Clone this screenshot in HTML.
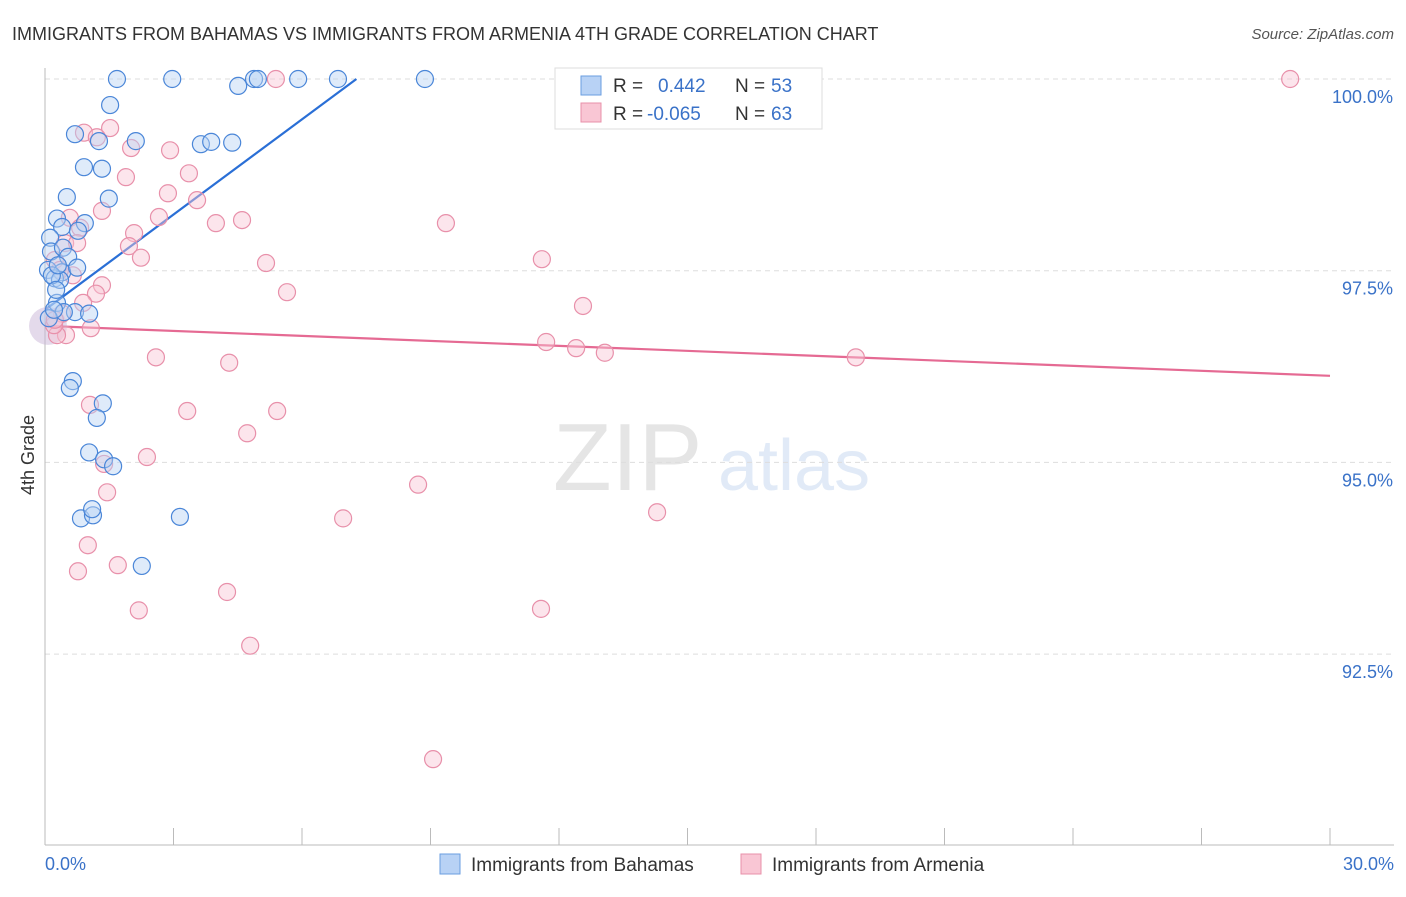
<!DOCTYPE html>
<html><head><meta charset="utf-8"><style>
body{margin:0;background:#fff;font-family:"Liberation Sans",sans-serif}
svg text{font-family:"Liberation Sans",sans-serif}
</style></head><body>
<svg id="chart" width="1406" height="892" viewBox="0 0 1406 892" xmlns="http://www.w3.org/2000/svg">
<text x="12" y="40" font-size="18" fill="#333">IMMIGRANTS FROM BAHAMAS VS IMMIGRANTS FROM ARMENIA 4TH GRADE CORRELATION CHART</text>
<text x="1394" y="39" font-size="15" fill="#555" text-anchor="end" font-style="italic">Source: ZipAtlas.com</text>
<g opacity="0.25">
<text x="553" y="490" font-size="96" fill="#999" font-family="Liberation Serif,serif">ZIP</text>
<text x="718" y="490" font-size="72" fill="#8ab0e0">atlas</text>
</g>
<g id="grid"></g>
<g id="axes"></g>
<g id="trend"></g>
<g id="pts"></g>
<text transform="translate(34,455) rotate(-90)" font-size="18" fill="#333" text-anchor="middle">4th Grade</text>
<g>
<rect x="555" y="68" width="267" height="61" fill="#fff" stroke="#ddd"/>
<rect x="581" y="76" width="20" height="19" fill="#b8d2f5" stroke="#6a9ee0"/>
<rect x="581" y="103" width="20" height="19" fill="#f9c6d4" stroke="#e890aa"/>
<text x="613" y="92" font-size="19" fill="#333">R = </text><text x="658" y="92" font-size="19" fill="#3a72c8">0.442</text>
<text x="735" y="92" font-size="19" fill="#333">N = </text><text x="771" y="92" font-size="19" fill="#3a72c8">53</text>
<text x="613" y="120" font-size="19" fill="#333">R = </text><text x="647" y="120" font-size="19" fill="#3a72c8">-0.065</text>
<text x="735" y="120" font-size="19" fill="#333">N = </text><text x="771" y="120" font-size="19" fill="#3a72c8">63</text>
</g>
<g>
<rect x="440" y="854" width="20" height="20" fill="#b8d2f5" stroke="#6a9ee0"/>
<text x="471" y="871" font-size="19" fill="#333">Immigrants from Bahamas</text>
<rect x="741" y="854" width="20" height="20" fill="#f9c6d4" stroke="#e890aa"/>
<text x="772" y="871" font-size="19" fill="#333">Immigrants from Armenia</text>
</g>
</svg>
<script>
const blueX=[1.68,2.97,4.51,4.88,4.97,5.91,6.84,8.87,1.52,0.70,1.26,2.12,3.64,3.88,4.37,0.91,1.33,0.51,1.49,0.28,0.40,0.93,0.77,0.12,0.14,0.42,0.54,0.07,0.40,0.75,0.23,0.35,0.28,0.70,0.44,1.03,0.09,0.65,0.58,1.35,1.21,1.03,1.38,1.59,0.84,1.12,1.10,3.15,2.26,0.21,0.16,0.30,0.26];
const blueY=[100,100,99.91,100,100,100,100,100,99.66,99.28,99.19,99.19,99.15,99.18,99.17,98.85,98.83,98.46,98.44,98.18,98.07,98.12,98.02,97.93,97.75,97.80,97.68,97.51,97.48,97.54,97.40,97.38,97.08,96.96,96.96,96.94,96.88,96.06,95.97,95.77,95.58,95.13,95.04,94.95,94.27,94.31,94.39,94.29,93.65,96.99,97.44,97.57,97.25];
const pinkX=[5.39,29.07,1.52,0.91,1.21,2.01,2.92,3.36,1.89,2.87,3.55,1.33,2.66,3.99,4.60,9.36,0.58,0.82,2.08,1.96,0.47,2.24,5.16,11.60,0.23,0.65,1.33,5.65,1.19,0.89,12.56,0.40,1.07,0.49,0.28,0.21,11.70,12.40,13.07,18.93,2.59,4.30,1.05,3.32,5.42,4.72,2.38,1.38,8.71,1.45,14.29,6.96,1.00,1.70,0.77,4.25,2.19,11.58,4.79,9.06,0.23,0.35,0.75];
const pinkY=[100,100,99.36,99.30,99.24,99.10,99.07,98.77,98.72,98.51,98.42,98.28,98.20,98.12,98.16,98.12,98.19,98.06,97.99,97.82,97.86,97.67,97.60,97.65,97.64,97.44,97.31,97.22,97.20,97.08,97.04,96.94,96.75,96.66,96.66,96.79,96.57,96.49,96.43,96.37,96.37,96.30,95.75,95.67,95.67,95.38,95.07,94.98,94.71,94.61,94.35,94.27,93.92,93.66,93.58,93.31,93.07,93.09,92.61,91.13,96.86,97.51,97.86];
const blueTrend=[96.99,0.414];   // intercept, slope per %
const pinkTrend=[96.78,-0.0217];
const yTicks=[100,97.5,95,92.5];
const yTickLabels=["100.0%","97.5%","95.0%","92.5%"];
const xTicks=[0,3,6,9,12,15,18,21,24,27,30];

const NS="http://www.w3.org/2000/svg";
const X0=45,X1=1330,YTOP=79;
const sx=v=>X0+(v/30)*(X1-X0);
const sy=v=>YTOP+(100-v)*76.68;
function mk(tag,attrs,parent){const e=document.createElementNS(NS,tag);for(const k in attrs)e.setAttribute(k,attrs[k]);parent.appendChild(e);return e;}
const grid=document.getElementById('grid'),axes=document.getElementById('axes'),trend=document.getElementById('trend'),pts=document.getElementById('pts');
yTicks.forEach((t,i)=>{
  const l=mk('line',{x1:X0,x2:1394,y1:sy(t),y2:sy(t),stroke:'#ddd','stroke-dasharray':'5,4'},grid);
  
  
  const tx=mk('text',{x:1393,y:sy(t)+24,'font-size':18,fill:'#3a72c8','text-anchor':'end'},axes);
  tx.textContent=yTickLabels[i];
  
  
});
const ya=mk('line',{x1:X0,x2:X0,y1:68,y2:845,stroke:'#bbb'},axes);


const xa=mk('line',{x1:X0,x2:1394,y1:845,y2:845,stroke:'#bbb'},axes);


xTicks.forEach(t=>{
  const l=mk('line',{x1:sx(t),x2:sx(t),y1:828,y2:845,stroke:'#bbb'},axes);
  
  
});
const xl0=mk('text',{x:45,y:870,'font-size':18,fill:'#3a72c8'},axes);xl0.textContent='0.0%';


const xl1=mk('text',{x:1394,y:870,'font-size':18,fill:'#3a72c8','text-anchor':'end'},axes);xl1.textContent='30.0%';



function dot(x,y,c,s,name){
  const e=mk('circle',{cx:sx(x),cy:sy(y),r:8.5,fill:c,'fill-opacity':0.45,stroke:s,'stroke-width':1.2},pts);
  
  
}
const big=mk('circle',{cx:sx(0.07),cy:sy(96.78),r:19,fill:'#c9b5d8','fill-opacity':0.5},pts);


pinkX.forEach((x,i)=>dot(x,pinkY[i],'#f9c6d4','#e890aa','armenia-point'));
blueX.forEach((x,i)=>dot(x,blueY[i],'#b8d2f5','#4a86d8','bahamas-point'));
// blue trend: clipped at 100%
const bEnd=Math.min(30,(100-blueTrend[0])/blueTrend[1]);
const bl=mk('line',{x1:sx(0),y1:sy(blueTrend[0]),x2:sx(bEnd),y2:sy(blueTrend[0]+blueTrend[1]*bEnd),stroke:'#2a6fd6','stroke-width':2.2},trend);


const pl=mk('line',{x1:sx(0),y1:sy(pinkTrend[0]),x2:sx(30),y2:sy(pinkTrend[0]+pinkTrend[1]*30),stroke:'#e56a93','stroke-width':2.2},trend);


</script>
</body></html>
